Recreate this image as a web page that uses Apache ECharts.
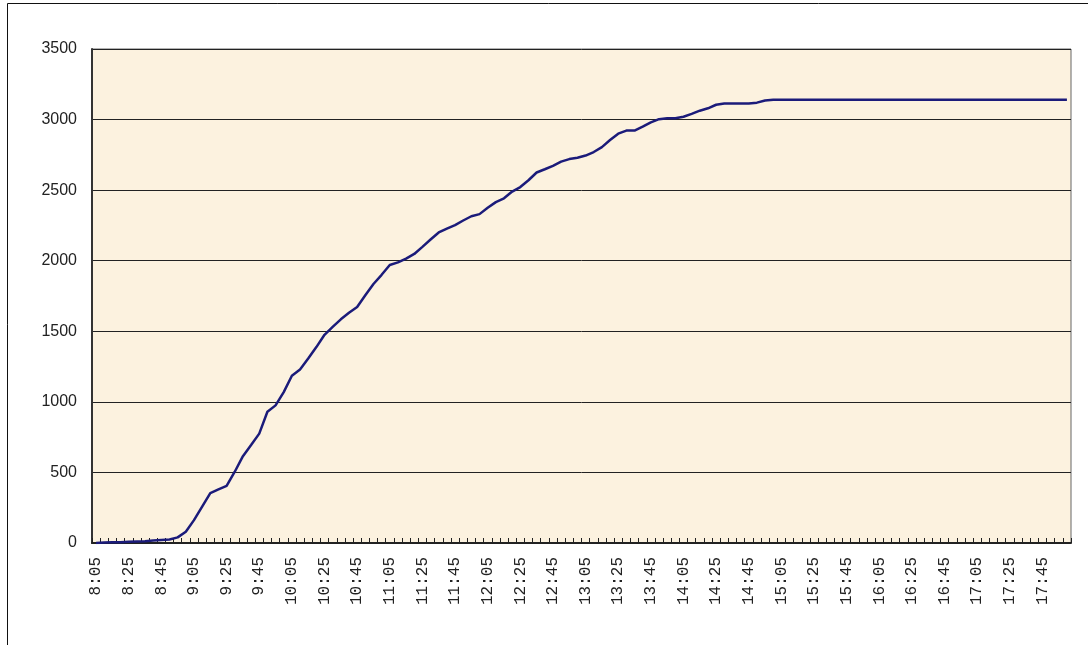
<!DOCTYPE html>
<html>
<head>
<meta charset="utf-8">
<script src="https://cdn.jsdelivr.net/npm/echarts@6/dist/echarts.min.js"></script>
<style>html,body{margin:0;padding:0;background:#fff;}#c{width:1088px;height:645px;}</style>
</head>
<body>
<div id="c"></div>
<script>
var categories = [
 '8:05','8:10','8:15','8:20','8:25','8:30','8:35','8:40','8:45','8:50','8:55',
 '9:00','9:05','9:10','9:15','9:20','9:25','9:30','9:35','9:40','9:45','9:50','9:55',
 '10:00','10:05','10:10','10:15','10:20','10:25','10:30','10:35','10:40','10:45','10:50','10:55',
 '11:00','11:05','11:10','11:15','11:20','11:25','11:30','11:35','11:40','11:45','11:50','11:55',
 '12:00','12:05','12:10','12:15','12:20','12:25','12:30','12:35','12:40','12:45','12:50','12:55',
 '13:00','13:05','13:10','13:15','13:20','13:25','13:30','13:35','13:40','13:45','13:50','13:55',
 '14:00','14:05','14:10','14:15','14:20','14:25','14:30','14:35','14:40','14:45','14:50','14:55',
 '15:00','15:05','15:10','15:15','15:20','15:25','15:30','15:35','15:40','15:45','15:50','15:55',
 '16:00','16:05','16:10','16:15','16:20','16:25','16:30','16:35','16:40','16:45','16:50','16:55',
 '17:00','17:05','17:10','17:15','17:20','17:25','17:30','17:35','17:40','17:45','17:50','17:55',
 '18:00'
];
var values = [
 0, 3, 5, 6, 8, 10, 12, 18, 22, 25,
 40, 80, 162, 258, 354, 380, 405, 505, 615, 694,
 775, 930, 975, 1069, 1185, 1230, 1307, 1388, 1475, 1531,
 1585, 1631, 1672, 1755, 1835, 1900, 1970, 1988, 2015, 2048,
 2098, 2150, 2200, 2228, 2252, 2285, 2315, 2330, 2375, 2415,
 2442, 2490, 2522, 2570, 2625, 2648, 2672, 2702, 2720, 2730,
 2745, 2770, 2805, 2855, 2900, 2922, 2922, 2950, 2980, 3003,
 3009, 3009, 3020, 3040, 3063, 3080, 3105, 3114, 3114, 3114,
 3114, 3120, 3135, 3140, 3140, 3140, 3140, 3140, 3140, 3140,
 3140, 3140, 3140, 3140, 3140, 3140, 3140, 3140, 3140, 3140,
 3140, 3140, 3140, 3140, 3140, 3140, 3140, 3140, 3140, 3140,
 3140, 3140, 3140, 3140, 3140, 3140, 3140, 3140, 3140, 3140
];
var yMin = 0, yMax = 3500, yStep = 500;

var chart = echarts.init(document.getElementById('c'), null, {renderer: 'canvas'});
chart.setOption({
  animation: false,
  backgroundColor: '#ffffff',
  graphic: [{
    type: 'rect', silent: true, z: -10,
    shape: {x: 7.5, y: 3.5, width: 1100, height: 700},
    style: {fill: 'none', stroke: '#111', lineWidth: 1}
  }],
  grid: {
    left: 92, right: 17, top: 49, bottom: 102,
    show: true, backgroundColor: '#FCF2DF', borderColor: '#666', borderWidth: 1
  },
  xAxis: {
    type: 'category',
    data: categories,
    boundaryGap: true,
    axisLine: {show: true, lineStyle: {color: '#222', width: 2}},
    axisTick: {show: true, inside: true, length: 5, interval: 0, lineStyle: {color: '#222', width: 1}},
    axisLabel: {
      interval: 3, rotate: 90, margin: 14,
      fontFamily: "'Liberation Mono', 'DejaVu Sans Mono', monospace",
      fontSize: 16, color: '#222'
    },
    splitLine: {show: false}
  },
  yAxis: {
    type: 'value',
    min: yMin, max: yMax, interval: yStep,
    axisLine: {show: true, lineStyle: {color: '#333', width: 2}},
    axisTick: {show: false},
    axisLabel: {
      margin: 15,
      formatter: function (v) { return String(v); },
      fontFamily: "'Liberation Sans', Arial, sans-serif",
      fontSize: 16, color: '#222'
    },
    splitLine: {show: true, lineStyle: {color: '#222', width: 1}}
  },
  series: [{
    type: 'line',
    data: values,
    symbol: 'none',
    lineStyle: {color: '#1b1b7a', width: 2.5},
    z: 5
  }]
});
</script>
</body>
</html>
